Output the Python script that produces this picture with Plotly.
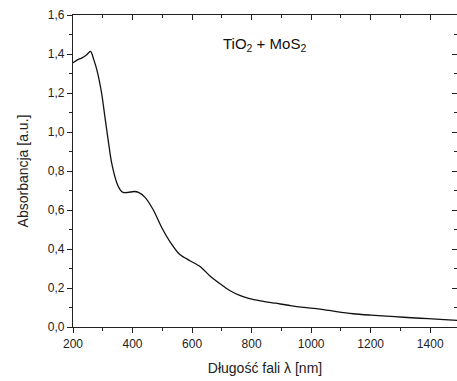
import plotly.graph_objects as go

# Absorption spectrum of the TiO2 + MoS2 sample
wavelength_nm = [200, 215, 230, 245, 259, 270, 280, 296, 307, 318, 330, 347, 358, 368,
                 385, 405, 420, 442, 470, 498, 526, 560, 593, 627, 660, 694, 728, 760,
                 790, 830, 880, 930, 975, 1030, 1085, 1141, 1200, 1253, 1310, 1366, 1420,
                 1477, 1500]
absorbance = [1.355, 1.37, 1.38, 1.395, 1.413, 1.37, 1.32, 1.20, 1.08, 0.96, 0.84, 0.74,
              0.705, 0.69, 0.69, 0.695, 0.69, 0.665, 0.60, 0.51, 0.437, 0.37, 0.34, 0.31,
              0.262, 0.222, 0.186, 0.162, 0.147, 0.134, 0.122, 0.110, 0.101, 0.092, 0.079,
              0.068, 0.061, 0.056, 0.05, 0.045, 0.04, 0.035, 0.033]

x_ticks = [200, 400, 600, 800, 1000, 1200, 1400]
y_ticks = [0.0, 0.2, 0.4, 0.6, 0.8, 1.0, 1.2, 1.4, 1.6]
y_ticklabels = ["0,0", "0,2", "0,4", "0,6", "0,8", "1,0", "1,2", "1,4", "1,6"]

x_range = [200, 1490]
y_range = [0, 1.6]
font = "Liberation Sans, Arial, sans-serif"

fig = go.Figure()
fig.add_trace(go.Scatter(x=wavelength_nm, y=absorbance, mode="lines",
                         line=dict(color="#111111", width=1.3, shape="spline", smoothing=0.8),
                         showlegend=False, hoverinfo="skip"))
# invisible helper trace so the mirrored top/right axes are drawn
fig.add_trace(go.Scatter(x=[None], y=[None], xaxis="x2", yaxis="y2",
                         showlegend=False, hoverinfo="skip"))

common = dict(showgrid=False, zeroline=False, linecolor="#222222", linewidth=1.3,
              tickcolor="#222222", tickwidth=1.2)

fig.update_layout(
    width=457, height=381,
    margin=dict(l=73, r=0, t=15, b=54),
    paper_bgcolor="white", plot_bgcolor="white",
    font=dict(family=font, size=12, color="#222222"),
    xaxis=dict(range=x_range, tickvals=x_ticks, ticks="outside", ticklen=5,
               showline=True, minor=dict(ticks="outside", dtick=100, ticklen=3,
                                         tickcolor="#222222"),
               title=dict(text="Długość fali λ [nm]", font=dict(size=14), standoff=13),
               tickfont=dict(size=12), **common),
    yaxis=dict(range=y_range, tickvals=y_ticks, ticktext=y_ticklabels, ticks="outside",
               ticklen=5, showline=True,
               minor=dict(ticks="outside", dtick=0.1, ticklen=3, tickcolor="#222222"),
               title=dict(text="Absorbancja [a.u.]", font=dict(size=14), standoff=15),
               tickfont=dict(size=12), **common),
    xaxis2=dict(range=x_range, overlaying="x", side="top", tickvals=x_ticks,
                showticklabels=False, ticks="inside", ticklen=5, showline=True,
                minor=dict(ticks="inside", dtick=100, ticklen=3, tickcolor="#222222"),
                **common),
    yaxis2=dict(range=y_range, overlaying="y", side="right", tickvals=y_ticks,
                showticklabels=False, ticks="inside", ticklen=5, showline=False,
                minor=dict(ticks="inside", dtick=0.1, ticklen=3, tickcolor="#222222"),
                showgrid=False, zeroline=False, tickcolor="#222222", tickwidth=1.2),
)

fig.add_annotation(x=0.385, y=0.905, xref="paper", yref="paper", xanchor="left",
                   yanchor="middle", showarrow=False,
                   text="TiO<sub>2</sub> + MoS<sub>2</sub>",
                   font=dict(family=font, size=15, color="#111111"))

fig.write_html("out.html")
